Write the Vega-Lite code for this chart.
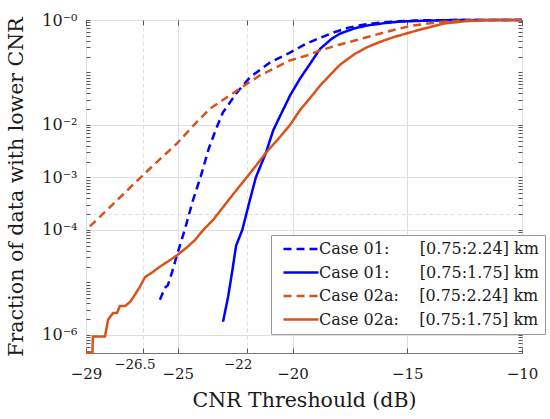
{
  "$schema": "https://vega.github.io/schema/vega-lite/v6.json",
  "autosize": {"type": "none"},
  "padding": {"left": 86, "top": 20, "right": 28, "bottom": 66},
  "width": 436,
  "height": 333,
  "config": {
    "font": "DejaVu Serif",
    "view": {"stroke": "#777777", "strokeWidth": 1},
    "axis": {
      "domain": false,
      "labelFont": "DejaVu Serif",
      "titleFont": "DejaVu Serif",
      "labelColor": "#1a1a1a",
      "titleColor": "#1a1a1a",
      "titleFontWeight": "normal",
      "tickColor": "#555555",
      "gridColor": "#dedede",
      "labelOverlap": false,
      "labelFlush": false
    }
  },
  "data": {
    "values": [
      {"series": "Case 01 [0.75:2.24]", "cnr": -25.78, "frac": 4.68e-6},
      {"series": "Case 01 [0.75:2.24]", "cnr": -25.56, "frac": 7.94e-6},
      {"series": "Case 01 [0.75:2.24]", "cnr": -25.43, "frac": 8.91e-6},
      {"series": "Case 01 [0.75:2.24]", "cnr": -25.25, "frac": 1.58e-5},
      {"series": "Case 01 [0.75:2.24]", "cnr": -25.03, "frac": 3.39e-5},
      {"series": "Case 01 [0.75:2.24]", "cnr": -24.7, "frac": 1.0e-4},
      {"series": "Case 01 [0.75:2.24]", "cnr": -24.35, "frac": 3.55e-4},
      {"series": "Case 01 [0.75:2.24]", "cnr": -24.0, "frac": 1.05e-3},
      {"series": "Case 01 [0.75:2.24]", "cnr": -23.65, "frac": 3.55e-3},
      {"series": "Case 01 [0.75:2.24]", "cnr": -23.31, "frac": 8.91e-3},
      {"series": "Case 01 [0.75:2.24]", "cnr": -23.03, "frac": 0.0174},
      {"series": "Case 01 [0.75:2.24]", "cnr": -22.42, "frac": 0.0417},
      {"series": "Case 01 [0.75:2.24]", "cnr": -21.85, "frac": 0.0813},
      {"series": "Case 01 [0.75:2.24]", "cnr": -20.98, "frac": 0.155},
      {"series": "Case 01 [0.75:2.24]", "cnr": -20.11, "frac": 0.24},
      {"series": "Case 01 [0.75:2.24]", "cnr": -19.4, "frac": 0.355},
      {"series": "Case 01 [0.75:2.24]", "cnr": -18.8, "frac": 0.457},
      {"series": "Case 01 [0.75:2.24]", "cnr": -18.24, "frac": 0.575},
      {"series": "Case 01 [0.75:2.24]", "cnr": -17.6, "frac": 0.708},
      {"series": "Case 01 [0.75:2.24]", "cnr": -17.05, "frac": 0.794},
      {"series": "Case 01 [0.75:2.24]", "cnr": -16.5, "frac": 0.861},
      {"series": "Case 01 [0.75:2.24]", "cnr": -15.5, "frac": 0.944},
      {"series": "Case 01 [0.75:2.24]", "cnr": -14.5, "frac": 0.982},
      {"series": "Case 01 [0.75:2.24]", "cnr": -13.0, "frac": 0.998},
      {"series": "Case 01 [0.75:2.24]", "cnr": -10.0, "frac": 1},
      {"series": "Case 01 [0.75:1.75]", "cnr": -23.03, "frac": 1.78e-6},
      {"series": "Case 01 [0.75:1.75]", "cnr": -22.81, "frac": 5.25e-6},
      {"series": "Case 01 [0.75:1.75]", "cnr": -22.64, "frac": 1.51e-5},
      {"series": "Case 01 [0.75:1.75]", "cnr": -22.46, "frac": 5.01e-5},
      {"series": "Case 01 [0.75:1.75]", "cnr": -22.19, "frac": 1.0e-4},
      {"series": "Case 01 [0.75:1.75]", "cnr": -21.9, "frac": 3.16e-4},
      {"series": "Case 01 [0.75:1.75]", "cnr": -21.6, "frac": 1.0e-3},
      {"series": "Case 01 [0.75:1.75]", "cnr": -21.16, "frac": 2.95e-3},
      {"series": "Case 01 [0.75:1.75]", "cnr": -20.84, "frac": 7.94e-3},
      {"series": "Case 01 [0.75:1.75]", "cnr": -20.5, "frac": 0.0162},
      {"series": "Case 01 [0.75:1.75]", "cnr": -20.11, "frac": 0.0363},
      {"series": "Case 01 [0.75:1.75]", "cnr": -19.68, "frac": 0.0759},
      {"series": "Case 01 [0.75:1.75]", "cnr": -19.37, "frac": 0.12},
      {"series": "Case 01 [0.75:1.75]", "cnr": -18.8, "frac": 0.282},
      {"series": "Case 01 [0.75:1.75]", "cnr": -18.3, "frac": 0.437},
      {"series": "Case 01 [0.75:1.75]", "cnr": -17.93, "frac": 0.55},
      {"series": "Case 01 [0.75:1.75]", "cnr": -17.3, "frac": 0.692},
      {"series": "Case 01 [0.75:1.75]", "cnr": -16.76, "frac": 0.785},
      {"series": "Case 01 [0.75:1.75]", "cnr": -16.0, "frac": 0.871},
      {"series": "Case 01 [0.75:1.75]", "cnr": -15.3, "frac": 0.933},
      {"series": "Case 01 [0.75:1.75]", "cnr": -14.0, "frac": 0.977},
      {"series": "Case 01 [0.75:1.75]", "cnr": -13.0, "frac": 0.995},
      {"series": "Case 01 [0.75:1.75]", "cnr": -10.0, "frac": 1},
      {"series": "Case 02a [0.75:2.24]", "cnr": -28.83, "frac": 1.17e-4},
      {"series": "Case 02a [0.75:2.24]", "cnr": -27.9, "frac": 2.88e-4},
      {"series": "Case 02a [0.75:2.24]", "cnr": -26.65, "frac": 9.77e-4},
      {"series": "Case 02a [0.75:2.24]", "cnr": -25.8, "frac": 2.19e-3},
      {"series": "Case 02a [0.75:2.24]", "cnr": -25.03, "frac": 4.47e-3},
      {"series": "Case 02a [0.75:2.24]", "cnr": -24.3, "frac": 0.01},
      {"series": "Case 02a [0.75:2.24]", "cnr": -23.6, "frac": 0.0204},
      {"series": "Case 02a [0.75:2.24]", "cnr": -22.73, "frac": 0.0367},
      {"series": "Case 02a [0.75:2.24]", "cnr": -22.0, "frac": 0.0603},
      {"series": "Case 02a [0.75:2.24]", "cnr": -21.42, "frac": 0.0881},
      {"series": "Case 02a [0.75:2.24]", "cnr": -20.7, "frac": 0.126},
      {"series": "Case 02a [0.75:2.24]", "cnr": -20.11, "frac": 0.17},
      {"series": "Case 02a [0.75:2.24]", "cnr": -19.37, "frac": 0.211},
      {"series": "Case 02a [0.75:2.24]", "cnr": -18.8, "frac": 0.263},
      {"series": "Case 02a [0.75:2.24]", "cnr": -17.93, "frac": 0.342},
      {"series": "Case 02a [0.75:2.24]", "cnr": -17.2, "frac": 0.417},
      {"series": "Case 02a [0.75:2.24]", "cnr": -16.49, "frac": 0.507},
      {"series": "Case 02a [0.75:2.24]", "cnr": -15.6, "frac": 0.646},
      {"series": "Case 02a [0.75:2.24]", "cnr": -14.75, "frac": 0.785},
      {"series": "Case 02a [0.75:2.24]", "cnr": -13.57, "frac": 0.912},
      {"series": "Case 02a [0.75:2.24]", "cnr": -12.7, "frac": 0.977},
      {"series": "Case 02a [0.75:2.24]", "cnr": -11.5, "frac": 0.998},
      {"series": "Case 02a [0.75:2.24]", "cnr": -10.0, "frac": 1},
      {"series": "Case 02a [0.75:1.75]", "cnr": -29.0, "frac": 4.62e-7},
      {"series": "Case 02a [0.75:1.75]", "cnr": -28.72, "frac": 4.62e-7},
      {"series": "Case 02a [0.75:1.75]", "cnr": -28.7, "frac": 9.33e-7},
      {"series": "Case 02a [0.75:1.75]", "cnr": -28.17, "frac": 9.33e-7},
      {"series": "Case 02a [0.75:1.75]", "cnr": -28.04, "frac": 1.95e-6},
      {"series": "Case 02a [0.75:1.75]", "cnr": -27.82, "frac": 2.63e-6},
      {"series": "Case 02a [0.75:1.75]", "cnr": -27.65, "frac": 2.63e-6},
      {"series": "Case 02a [0.75:1.75]", "cnr": -27.52, "frac": 3.55e-6},
      {"series": "Case 02a [0.75:1.75]", "cnr": -27.3, "frac": 3.55e-6},
      {"series": "Case 02a [0.75:1.75]", "cnr": -27.08, "frac": 4.27e-6},
      {"series": "Case 02a [0.75:1.75]", "cnr": -26.95, "frac": 5.13e-6},
      {"series": "Case 02a [0.75:1.75]", "cnr": -26.65, "frac": 8.32e-6},
      {"series": "Case 02a [0.75:1.75]", "cnr": -26.43, "frac": 1.26e-5},
      {"series": "Case 02a [0.75:1.75]", "cnr": -26.12, "frac": 1.55e-5},
      {"series": "Case 02a [0.75:1.75]", "cnr": -25.78, "frac": 2.0e-5},
      {"series": "Case 02a [0.75:1.75]", "cnr": -25.43, "frac": 2.51e-5},
      {"series": "Case 02a [0.75:1.75]", "cnr": -25.03, "frac": 3.31e-5},
      {"series": "Case 02a [0.75:1.75]", "cnr": -24.6, "frac": 4.68e-5},
      {"series": "Case 02a [0.75:1.75]", "cnr": -24.25, "frac": 6.46e-5},
      {"series": "Case 02a [0.75:1.75]", "cnr": -23.89, "frac": 1.0e-4},
      {"series": "Case 02a [0.75:1.75]", "cnr": -23.45, "frac": 1.58e-4},
      {"series": "Case 02a [0.75:1.75]", "cnr": -23.0, "frac": 2.82e-4},
      {"series": "Case 02a [0.75:1.75]", "cnr": -22.5, "frac": 5.37e-4},
      {"series": "Case 02a [0.75:1.75]", "cnr": -22.0, "frac": 1.0e-3},
      {"series": "Case 02a [0.75:1.75]", "cnr": -21.6, "frac": 1.66e-3},
      {"series": "Case 02a [0.75:1.75]", "cnr": -21.16, "frac": 2.95e-3},
      {"series": "Case 02a [0.75:1.75]", "cnr": -20.55, "frac": 5.89e-3},
      {"series": "Case 02a [0.75:1.75]", "cnr": -20.11, "frac": 0.01},
      {"series": "Case 02a [0.75:1.75]", "cnr": -19.68, "frac": 0.0191},
      {"series": "Case 02a [0.75:1.75]", "cnr": -19.24, "frac": 0.0324},
      {"series": "Case 02a [0.75:1.75]", "cnr": -18.8, "frac": 0.0562},
      {"series": "Case 02a [0.75:1.75]", "cnr": -18.37, "frac": 0.0891},
      {"series": "Case 02a [0.75:1.75]", "cnr": -17.93, "frac": 0.141},
      {"series": "Case 02a [0.75:1.75]", "cnr": -17.3, "frac": 0.224},
      {"series": "Case 02a [0.75:1.75]", "cnr": -16.76, "frac": 0.302},
      {"series": "Case 02a [0.75:1.75]", "cnr": -16.2, "frac": 0.38},
      {"series": "Case 02a [0.75:1.75]", "cnr": -15.62, "frac": 0.468},
      {"series": "Case 02a [0.75:1.75]", "cnr": -14.58, "frac": 0.631},
      {"series": "Case 02a [0.75:1.75]", "cnr": -13.44, "frac": 0.851},
      {"series": "Case 02a [0.75:1.75]", "cnr": -12.4, "frac": 0.955},
      {"series": "Case 02a [0.75:1.75]", "cnr": -11.5, "frac": 0.993},
      {"series": "Case 02a [0.75:1.75]", "cnr": -10.0, "frac": 1}
    ]
  },
  "layer": [
    {
      "mark": {"type": "line", "strokeWidth": 2.5, "strokeCap": "butt"},
      "encoding": {
        "x": {
          "field": "cnr",
          "type": "quantitative",
          "scale": {"domain": [-29, -10], "nice": false, "zero": false},
          "axis": {
            "values": [-29, -26.5, -25, -22, -20, -15, -10],
            "labelExpr": "replace(toString(datum.value), '-', '\u2212')",
            "title": "CNR Threshould (dB)",
            "titleFontSize": 20.5,
            "titlePadding": 9,
            "labelFontSize": {"condition": {"test": "datum.value == -26.5 || datum.value == -22", "value": 13.5}, "value": 15},
            "labelPadding": {"condition": {"test": "datum.value == -26.5 || datum.value == -22", "value": 9}, "value": 18},
            "labelOffset": {"condition": {"test": "datum.value == -26.5 || datum.value == -22", "value": -9}, "value": 0},
            "tickSize": -5,
            "grid": true,
            "gridDash": {"condition": {"test": "datum.value == -26.5 || datum.value == -22", "value": [4, 3]}, "value": []}
          }
        },
        "y": {
          "field": "frac",
          "type": "quantitative",
          "scale": {"type": "log", "domain": [4.54e-7, 1], "nice": false},
          "axis": {
            "values": [0.0000005, 0.0000006, 0.0000007, 0.0000008, 0.0000009, 0.000001, 0.000002, 0.000003, 0.000004, 0.000005, 0.000006, 0.000007, 0.000008, 0.000009, 0.00001, 0.00002, 0.00003, 0.00004, 0.00005, 0.00006, 0.00007, 0.00008, 0.00009, 0.0001, 0.0002, 0.0003, 0.0004, 0.0005, 0.0006, 0.0007, 0.0008, 0.0009, 0.001, 0.002, 0.003, 0.004, 0.005, 0.006, 0.007, 0.008, 0.009, 0.01, 0.02, 0.03, 0.04, 0.05, 0.06, 0.07, 0.08, 0.09, 0.1, 0.2, 0.3, 0.4, 0.5, 0.6, 0.7, 0.8, 0.9, 1],
            "labelExpr": "datum.value == 1 ? '10⁻⁰' : datum.value == 0.01 ? '10⁻²' : datum.value == 0.001 ? '10⁻³' : datum.value == 0.0001 ? '10⁻⁴' : datum.value == 0.000001 ? '10⁻⁶' : ''",
            "title": "Fraction of data with lower CNR",
            "titleFontSize": 20.5,
            "titlePadding": 15,
            "labelFontSize": 16,
            "labelPadding": 13,
            "tickSize": -4,
            "grid": true,
            "gridOpacity": {"condition": {"test": "indexof([0.000001, 0.0001, 0.0002, 0.001, 0.01, 1], datum.value) >= 0", "value": 1}, "value": 0},
            "gridDash": {"condition": {"test": "datum.value == 0.0002", "value": [4, 3]}, "value": []}
          }
        },
        "color": {
          "field": "series",
          "type": "nominal",
          "scale": {
            "domain": ["Case 01 [0.75:2.24]", "Case 01 [0.75:1.75]", "Case 02a [0.75:2.24]", "Case 02a [0.75:1.75]"],
            "range": ["#0000ff", "#0000ff", "#d95319", "#d95319"]
          },
          "legend": {
            "orient": "none",
            "legendX": 185,
            "legendY": 215,
            "title": null,
            "symbolType": "M-3,0H3",
            "symbolSize": 136,
            "symbolStrokeWidth": 2.5,
            "symbolFillColor": "transparent",
            "symbolOffset": 16,
            "labelFont": "DejaVu Serif",
            "labelFontSize": 16,
            "labelColor": "#1a1a1a",
            "labelLimit": 400,
            "labelOffset": 10,
            "rowPadding": 7.5,
            "padding": 6,
            "fillColor": "white",
            "strokeColor": "#999999",
            "labelExpr": "datum.label == 'Case 01 [0.75:2.24]' ? 'Case 01:\u00a0\u00a0\u00a0\u00a0\u00a0\u00a0[0.75:2.24] km' : datum.label == 'Case 01 [0.75:1.75]' ? 'Case 01:\u00a0\u00a0\u00a0\u00a0\u00a0\u00a0[0.75:1.75] km' : datum.label == 'Case 02a [0.75:2.24]' ? 'Case 02a:\u00a0\u00a0\u00a0\u00a0[0.75:2.24] km' : 'Case 02a:\u00a0\u00a0\u00a0\u00a0[0.75:1.75] km'"
          }
        },
        "strokeDash": {
          "field": "series",
          "type": "nominal",
          "scale": {
            "domain": ["Case 01 [0.75:2.24]", "Case 01 [0.75:1.75]", "Case 02a [0.75:2.24]", "Case 02a [0.75:1.75]"],
            "range": [[8, 5], [1, 0], [8, 5], [1, 0]]
          }
        }
      }
    },
    {
      "mark": {"type": "point", "opacity": 0},
      "encoding": {
        "x": {
          "field": "cnr",
          "type": "quantitative",
          "axis": {"orient": "top", "values": [-29, -26.5, -25, -22, -20, -15, -10], "labels": false, "title": null, "grid": false, "tickSize": -5}
        },
        "y": {
          "field": "frac",
          "type": "quantitative",
          "axis": {"orient": "right", "values": [0.0000005, 0.0000006, 0.0000007, 0.0000008, 0.0000009, 0.000001, 0.000002, 0.000003, 0.000004, 0.000005, 0.000006, 0.000007, 0.000008, 0.000009, 0.00001, 0.00002, 0.00003, 0.00004, 0.00005, 0.00006, 0.00007, 0.00008, 0.00009, 0.0001, 0.0002, 0.0003, 0.0004, 0.0005, 0.0006, 0.0007, 0.0008, 0.0009, 0.001, 0.002, 0.003, 0.004, 0.005, 0.006, 0.007, 0.008, 0.009, 0.01, 0.02, 0.03, 0.04, 0.05, 0.06, 0.07, 0.08, 0.09, 0.1, 0.2, 0.3, 0.4, 0.5, 0.6, 0.7, 0.8, 0.9, 1], "labels": false, "title": null, "grid": false, "tickSize": -4}
        }
      }
    }
  ],
  "resolve": {"scale": {"x": "shared", "y": "shared"}, "axis": {"x": "independent", "y": "independent"}}
}
